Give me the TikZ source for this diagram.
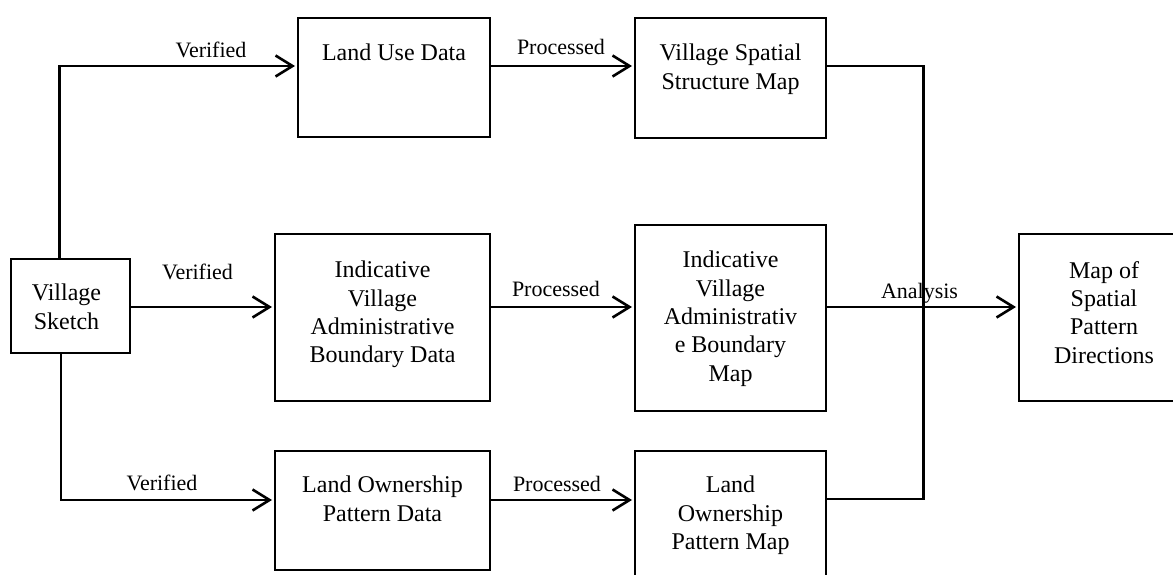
\documentclass[tikz,border=0pt]{standalone}
\usepackage{fontspec}
\setmainfont{Liberation Serif}
\usetikzlibrary{arrows.meta}
\begin{document}
\begin{tikzpicture}[x=1pt,y=-1pt,
  box/.style={draw,line width=2pt,rectangle,inner sep=0pt},
  txt/.style={align=center,inner sep=0pt,anchor=north,font=\fontsize{24}{28.3}\selectfont},
  lbl/.style={inner sep=0pt,anchor=base,font=\fontsize{22}{26}\selectfont},
  conn/.style={line width=2.6pt},
  arr/.style={conn,-{Straight Barb[length=17pt,width=21pt]},shorten >=2pt}]
\useasboundingbox (0,0) rectangle (1173,575);
\clip (0,0) rectangle (1173,575);
% boxes
\node[box,minimum width=119pt,minimum height=94pt] (vs) at (70.5,306) {};
\node[box,minimum width=192pt,minimum height=119pt] (lu) at (394,77.5) {};
\node[box,minimum width=191pt,minimum height=120pt] (vssm) at (730.5,78) {};
\node[box,minimum width=215pt,minimum height=167pt] (ivad) at (382.5,317.5) {};
\node[box,minimum width=191pt,minimum height=186pt] (ivab) at (730.5,318) {};
\node[box,minimum width=215pt,minimum height=119pt] (lopd) at (382.5,510.5) {};
\node[box,minimum width=191pt,minimum height=149pt] (lopm) at (730.5,525.5) {};
\node[box,minimum width=170pt,minimum height=167pt] (msp) at (1104,317.5) {};
% texts
\node[txt] (tvs) at ([xshift=-4pt,yshift=-26pt]vs.north) {Village\\Sketch};
\node[txt] (tlu) at ([yshift=-27pt]lu.north) {Land Use Data};
\node[txt] (tvssm) at ([yshift=-27pt]vssm.north) {Village Spatial\\Structure Map};
\node[txt] (tivad) at ([yshift=-28pt]ivad.north) {Indicative\\Village\\Administrative\\Boundary Data};
\node[txt] (tivab) at ([yshift=-27pt]ivab.north) {Indicative\\Village\\Administrativ\\e Boundary\\Map};
\node[txt] (tlopd) at ([yshift=-26pt]lopd.north) {Land Ownership\\Pattern Data};
\node[txt] (tlopm) at ([yshift=-26pt]lopm.north) {Land\\Ownership\\Pattern Map};
\node[txt] (tmsp) at ([yshift=-28pt]msp.north) {Map of\\Spatial\\Pattern\\Directions};
% helper coordinates
\coordinate (c1) at (59.5,66);
\coordinate (c2) at (70.5,307);
\coordinate (c3) at (61,500);
\coordinate (c4) at (923.3,66);
\coordinate (c5) at (923.3,499);
% connectors
\draw[arr] (vs.north -| c1) -- (c1) -- (lu.west |- c1);
\draw[arr] (lu.east |- c1) -- (vssm.west |- c1);
\draw[arr] (vs.east |- c2) -- (ivad.west |- c2);
\draw[arr] (ivad.east |- c2) -- (ivab.west |- c2);
\draw[arr] (vs.south -| c3) -- (c3) -- (lopd.west |- c3);
\draw[arr] (lopd.east |- c3) -- (lopm.west |- c3);
\draw[conn] (vssm.east |- c4) -- (c4) -- (c5) -- (lopm.east |- c5);
\draw[arr] (ivab.east |- c2) -- (msp.west |- c2);
% labels
\node[lbl] (l1) at (211,58) {Verified};
\node[lbl] (l2) at (197.5,279) {Verified};
\node[lbl] (l3) at (162,490) {Verified};
\node[lbl] (l4) at (561,55) {Processed};
\node[lbl] (l5) at (556,296) {Processed};
\node[lbl] (l6) at (557,491) {Processed};
\node[lbl] (l7) at (919.5,298) {Analysis};
\end{tikzpicture}
\end{document}
